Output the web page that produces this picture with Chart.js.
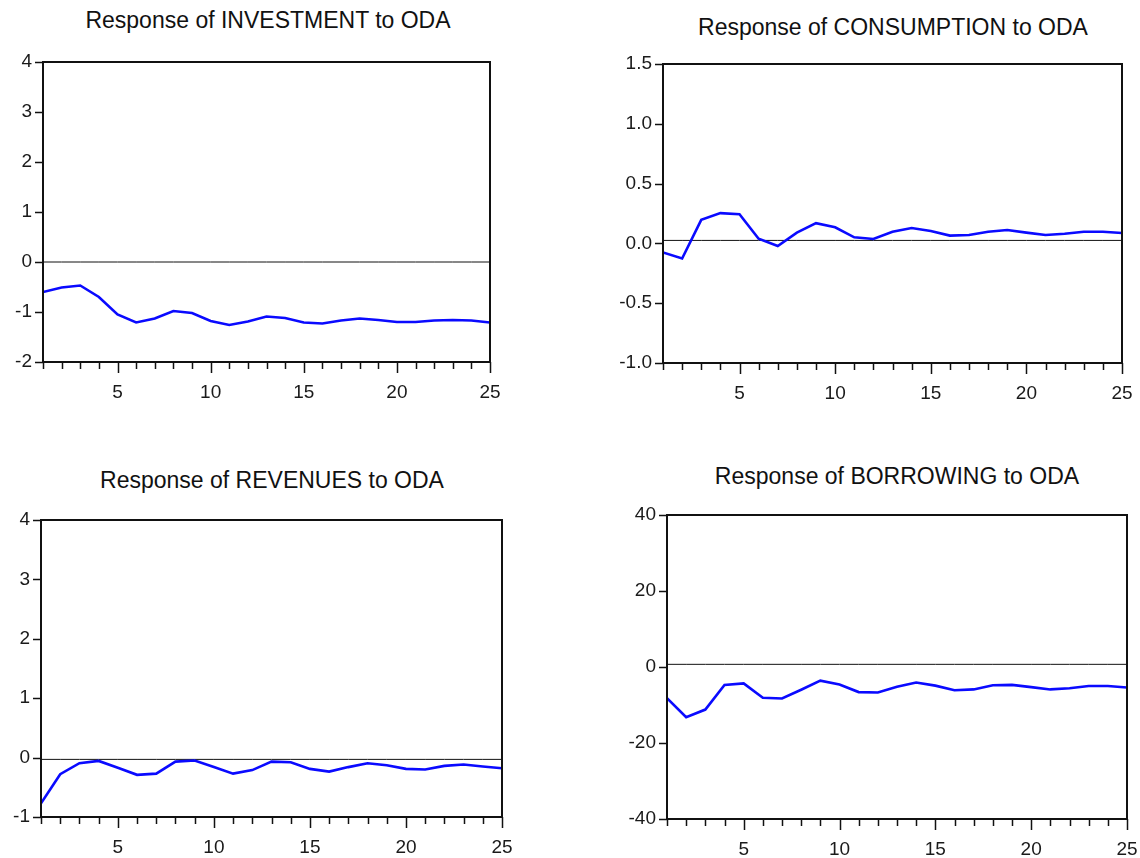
<!DOCTYPE html>
<html>
<head>
<meta charset="utf-8">
<script src="https://cdn.jsdelivr.net/npm/chart.js@4.4.0/dist/chart.umd.min.js"></script>
<style>
  body { margin: 0; background: #fff; width: 1140px; height: 858px; position: relative; overflow: hidden;
         font-family: "Liberation Sans", Arial, sans-serif; }
  canvas { position: absolute; }
  .title { position: absolute; font-size: 23px; line-height: 26px; color: #111; white-space: nowrap;
           transform: translateX(-50%); }
</style>
</head>
<body>
<div class="title" style="left:268px;top:7px">Response of INVESTMENT to ODA</div>
<div class="title" style="left:893px;top:14px">Response of CONSUMPTION to ODA</div>
<div class="title" style="left:272px;top:467px">Response of REVENUES to ODA</div>
<div class="title" style="left:897px;top:463px">Response of BORROWING to ODA</div>

<canvas id="c1"></canvas>
<canvas id="c2"></canvas>
<canvas id="c3"></canvas>
<canvas id="c4"></canvas>

<script>
// periods after the shock
const periods = [1, 2, 3, 4, 5, 6, 7, 8, 9, 10, 11, 12, 13, 14, 15, 16, 17, 18, 19, 20, 21, 22, 23, 24, 25];

// impulse responses
const investment = [-0.60, -0.51, -0.47, -0.70, -1.05, -1.21, -1.13, -0.98, -1.02, -1.18, -1.26, -1.19, -1.09,
                    -1.12, -1.21, -1.23, -1.17, -1.13, -1.16, -1.20, -1.20, -1.17, -1.16, -1.17, -1.21];
const consumption = [-0.076, -0.126, 0.197, 0.253, 0.244, 0.039, -0.022, 0.090, 0.169, 0.135, 0.051, 0.037, 0.098,
                     0.129, 0.104, 0.065, 0.070, 0.098, 0.112, 0.090, 0.070, 0.081, 0.098, 0.098, 0.087];
const revenues = [-0.77, -0.28, -0.095, -0.056, -0.17, -0.29, -0.27, -0.067, -0.05, -0.16, -0.27, -0.21, -0.067,
                  -0.078, -0.19, -0.235, -0.16, -0.095, -0.13, -0.19, -0.20, -0.14, -0.117, -0.15, -0.18];
const borrowing = [-8.2, -13.2, -11.2, -4.75, -4.3, -8.1, -8.3, -6.0, -3.6, -4.6, -6.6, -6.7, -5.2,
                   -4.1, -4.9, -6.1, -5.9, -4.8, -4.7, -5.3, -5.9, -5.6, -5.0, -5.0, -5.4];

// y-axis ranges and the level of the thin reference line in each panel
const investmentTicks = [-2, -1, 0, 1, 2, 3, 4];
const consumptionTicks = [-1.0, -0.5, 0.0, 0.5, 1.0, 1.5];
const revenuesTicks = [-1, 0, 1, 2, 3, 4];
const borrowingTicks = [-40, -20, 0, 20, 40];
const refLevels = [0, 0.025, -0.03, 0.7];

const AXIS_W = 45, PAD_T = 14, PAD_R = 14, AXIS_H = 50;

// draws the box plus the outside tick marks
const framePlugin = {
    id: 'frame',
    afterDraw(chart) {
        const { ctx, chartArea: a, scales: { x, y } } = chart;
        ctx.save();
        ctx.strokeStyle = '#111';
        ctx.lineWidth = 1.5;
        ctx.beginPath();
        y.ticks.forEach(t => {
            const py = Math.round(y.getPixelForValue(t.value)) + 0.5;
            ctx.moveTo(a.left - 8, py);
            ctx.lineTo(a.left, py);
        });
        for (let v = x.min; v <= x.max; v++) {
            const px = Math.round(x.getPixelForValue(v)) + 0.5;
            ctx.moveTo(px, a.bottom);
            ctx.lineTo(px, a.bottom + (v % 5 === 0 ? 11 : 7));
        }
        ctx.stroke();
        ctx.lineWidth = 2;
        ctx.strokeRect(a.left, a.top, a.right - a.left, a.bottom - a.top);
        ctx.restore();
    }
};

// keep the plot box exactly where the reference has it
function noPadding(s) {
    s.paddingLeft = 0;
    s.paddingRight = 0;
    s.paddingTop = 0;
    s.paddingBottom = 0;
}

function makePanel(id, area, values, ticks, ref, decimals) {
    const canvas = document.getElementById(id);
    canvas.width = area.r - area.l + AXIS_W + PAD_R;
    canvas.height = area.b - area.t + PAD_T + AXIS_H;
    canvas.style.left = (area.l - AXIS_W) + 'px';
    canvas.style.top = (area.t - PAD_T) + 'px';

    const step = ticks[1] - ticks[0];
    new Chart(canvas, {
        type: 'line',
        data: {
            datasets: [{
                data: periods.map((p, i) => ({ x: p, y: values[i] })),
                borderColor: '#0a0aff',
                borderWidth: 2.6,
                pointRadius: 0,
                tension: 0
            }, {
                data: periods.map(p => ({ x: p, y: ref })),
                borderColor: '#111',
                borderWidth: 1,
                pointRadius: 0
            }]
        },
        options: {
            responsive: false,
            animation: false,
            layout: { padding: { left: 0, top: PAD_T, right: PAD_R, bottom: 0 } },
            plugins: { legend: { display: false }, tooltip: { enabled: false } },
            scales: {
                x: {
                    type: 'linear',
                    min: periods[0],
                    max: periods[periods.length - 1],
                    afterFit: s => { s.height = AXIS_H; noPadding(s); },
                    grid: { display: false, drawTicks: false },
                    border: { display: false },
                    ticks: {
                        stepSize: 1,
                        autoSkip: false,
                        maxRotation: 0,
                        padding: 19,
                        color: '#1a1a1a',
                        font: { family: 'Liberation Sans', size: 19 },
                        callback: v => (v % 5 === 0 ? String(v) : '')
                    }
                },
                y: {
                    min: ticks[0],
                    max: ticks[ticks.length - 1],
                    afterFit: s => { s.width = AXIS_W; noPadding(s); },
                    grid: { display: false, drawTicks: false },
                    border: { display: false },
                    ticks: {
                        stepSize: step,
                        padding: 11,
                        color: '#1a1a1a',
                        font: { family: 'Liberation Sans', size: 19 },
                        callback: v => v.toFixed(decimals)
                    }
                }
            }
        },
        plugins: [framePlugin]
    });
}

makePanel('c1', { l: 43, t: 62, r: 490, b: 362 }, investment, investmentTicks, refLevels[0], 0);
makePanel('c2', { l: 663, t: 64, r: 1122, b: 363 }, consumption, consumptionTicks, refLevels[1], 1);
makePanel('c3', { l: 41, t: 520, r: 502, b: 817 }, revenues, revenuesTicks, refLevels[2], 0);
makePanel('c4', { l: 667, t: 515, r: 1127, b: 819 }, borrowing, borrowingTicks, refLevels[3], 0);
</script>
</body>
</html>
